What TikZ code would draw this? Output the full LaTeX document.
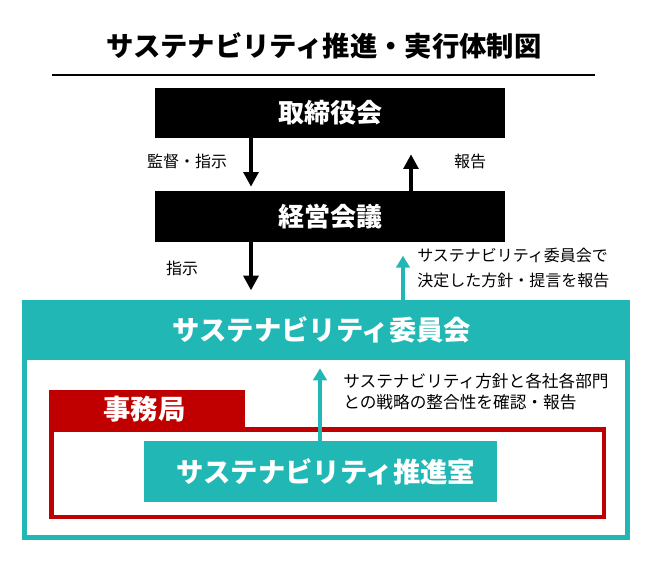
\documentclass[tikz,border=0pt]{standalone}
\usepackage{fontspec}
\setmainfont{Noto Sans CJK JP}
\usetikzlibrary{arrows.meta}
\definecolor{susteal}{RGB}{32,183,181}
\definecolor{susred}{RGB}{192,0,0}

\begin{document}
\begin{tikzpicture}[x=0.75pt,y=-0.75pt,
  bigfont/.style={font=\bfseries\fontsize{19.5}{21}\selectfont},
  widefont/.style={font=\bfseries\fontsize{20.5}{22}\selectfont},
  blkbox/.style={bigfont,fill=black,text=white,minimum width=262.5pt,minimum height=37.5pt,inner sep=0pt},
  lbl/.style={font=\fontsize{12}{18.5}\selectfont,inner sep=0pt},
  blkarr/.style={-{Triangle[length=11pt,width=11pt]},line width=3.4pt},
  tealarr/.style={-{Triangle[length=9pt,width=10pt]},line width=3pt,susteal}]
  \useasboundingbox (0,0) rectangle (650,561);
  % Title and rule
  \node[widefont] (title) at (324,46) {サステナビリティ推進・実行体制図};
  \coordinate (ruleL) at (52,75);
  \coordinate (ruleR) at (595,75);
  \draw[line width=0.8pt] (ruleL) -- (ruleR);
  % Board and management meeting
  \node[blkbox] (board) at (330,113) {取締役会};
  \node[blkbox,minimum height=38.25pt] (mgmt) at (330,216.5) {経営会議};
  % Arrow columns
  \coordinate (dnx) at (251,0);
  \coordinate (upx) at (411,0);
  \coordinate (tlx) at (403,0);
  \coordinate (inx) at (320,0);
  \draw[blkarr,shorten >=3pt] (board.south -| dnx) -- (mgmt.north -| dnx);
  \draw[blkarr,shorten >=12pt] (mgmt.north -| upx) -- (board.south -| upx);
  \node[lbl] (lbSupervise) at (187,161) {監督・指示};
  \node[lbl] (lbReport) at (470,161) {報告};
  % Sustainability committee (teal frame with header band)
  \node[widefont,fill=susteal,text=white,minimum width=456pt,minimum height=45pt,inner sep=0pt] (cmte) at (326,330) {\hspace*{-6pt}サステナビリティ委員会};
  \coordinate (frameNW) at (24.5,302.5);
  \coordinate (frameSE) at (627.5,537.5);
  \draw[susteal,line width=3.75pt] (frameNW) rectangle (frameSE);
  \draw[blkarr,shorten >=7pt] (mgmt.south -| dnx) -- (cmte.north -| dnx);
  \node[lbl] (lbInstruct) at (182,268) {指示};
  \draw[tealarr,shorten >=10pt] (cmte.north -| tlx) -- (mgmt.south -| tlx);
  \node[lbl,anchor=west,align=left] (lbDecided) at (417,268) {サステナビリティ委員会で\\決定した方針・提言を報告};
  % Secretariat (red tab and frame)
  \node[widefont,fill=susred,text=white,minimum width=147pt,minimum height=28.5pt,inner sep=0pt] (jimu) at (147,409) {\hspace*{-4pt}事務局};
  \coordinate (redNW) at (51.5,429.5);
  \coordinate (redSE) at (604,517);
  \draw[susred,line width=3.4pt] (redNW) rectangle (redSE);
  % Promotion office
  \node[widefont,fill=susteal,text=white,minimum width=265pt,minimum height=45.75pt,inner sep=0pt] (office) at (320.5,471.5) {\hspace*{8pt}サステナビリティ推進室};
  \draw[tealarr,shorten >=6pt] (office.north -| inx) -- (cmte.south -| inx);
  \node[lbl,anchor=west,align=left,font=\fontsize{12.5}{15.5}\selectfont] (lbCheck) at (343,392) {サステナビリティ方針と各社各部門\\との戦略の整合性を確認・報告};
\end{tikzpicture}
\end{document}
